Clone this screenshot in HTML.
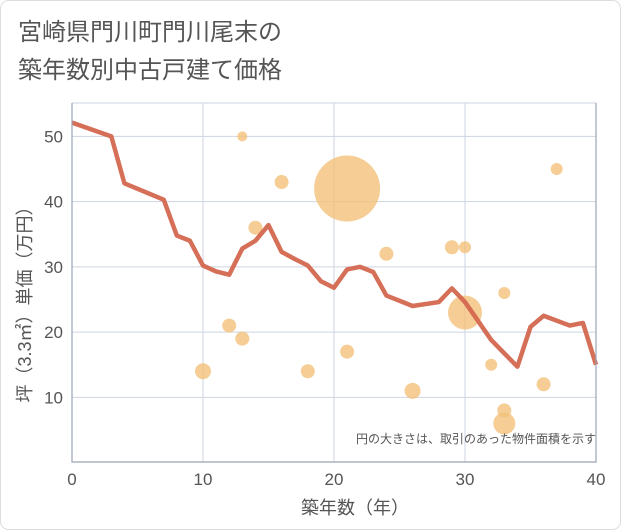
<!DOCTYPE html>
<html><head><meta charset="utf-8">
<style>
body{margin:0;background:#fff;}
svg{display:block;font-family:"Liberation Sans","Noto Sans CJK JP",sans-serif;}
</style></head>
<body>
<svg id="chart" width="621" height="530" viewBox="0 0 621 530">
<rect x="0.5" y="0.5" width="620" height="529" rx="8" fill="#fff" stroke="#ddd"/>
<text x="18" y="40" font-size="24" fill="#555">宮崎県門川町門川尾末の</text>
<text x="18" y="78" font-size="24" fill="#555">築年数別中古戸建て価格</text>
<g id="grid"></g>
<g id="bubbles"></g>
<g id="line"></g>
<g id="axes"></g>
<text x="596" y="443" font-size="12" fill="#555" text-anchor="end">円の大きさは、取引のあった物件面積を示す</text>
<text x="355" y="514" font-size="18" fill="#555" text-anchor="middle">築年数（年）</text>
<text transform="translate(31,300) rotate(-90)" font-size="18" fill="#555" text-anchor="middle">坪（3.3㎡）単価（万円）</text>
</svg>
<script>
const xTicks=[0,10,20,30,40];
const yTicks=[10,20,30,40,50];
const lineX=[0,3,4,7,8,9,10,11,12,13,14,15,16,17,18,19,20,21,22,23,24,26,28,29,30,32,34,35,36,38,39,40];
const lineY=[52.1,50,42.8,40.3,34.8,34.0,30.2,29.3,28.8,32.8,34.0,36.4,32.3,31.2,30.2,27.8,26.8,29.6,30.0,29.2,25.6,24.0,24.6,26.7,24.6,18.8,14.7,20.8,22.5,21.0,21.4,15.0];
const bubX=[13,16,21,14,24,29,30,33,30,12,13,21,10,18,32,37,36,26,33,33];
const bubY=[50,43,42,36,32,33,33,26,23,21,19,17,14,14,15,45,12,11,8,6];
const bubR=[5,7,33,7,7,7,6,6,17,7,7,7,8,7,6,6,7,8,7,11];

const X0=72,X1=596,YT=103,YB=462;
const sx=v=>X0+(v-0)*(X1-X0)/40;
const sy=v=>462.6-v*6.525;
const NS="http://www.w3.org/2000/svg";
function mk(tag,attrs,parent){const e=document.createElementNS(NS,tag);for(const k in attrs)e.setAttribute(k,attrs[k]);parent.appendChild(e);return e;}
const grid=document.getElementById('grid'),axes=document.getElementById('axes');
xTicks.forEach(t=>{
  const l=mk('line',{x1:sx(t),x2:sx(t),y1:YT,y2:YB,stroke:'#cdd5e0','stroke-width':1},grid);
  
  
  const tx=mk('text',{x:sx(t),y:485,'font-size':17,fill:'#555','text-anchor':'middle'},axes);
  tx.textContent=t;
  
  
});
yTicks.forEach(t=>{
  const l=mk('line',{x1:X0,x2:X1,y1:sy(t),y2:sy(t),stroke:'#cdd5e0','stroke-width':1},grid);
  
  
  const tx=mk('text',{x:63,y:sy(t)+6,'font-size':17,fill:'#555','text-anchor':'end'},axes);
  tx.textContent=t;
  
  
});
const plotTop=mk('line',{x1:X0,x2:X1,y1:YT,y2:YT,stroke:'#cdd5e0'},grid);


const axPath=mk('path',{d:`M${X0},${YT}V${YB}H${X1}V${YT}`,fill:'none',stroke:'#9aa5b4','stroke-width':1.2},axes);


const bg=document.getElementById('bubbles');
bubX.forEach((v,i)=>{
  const c=mk('circle',{cx:sx(v),cy:sy(bubY[i]),r:bubR[i],fill:'#f3c17a','fill-opacity':0.8},bg);
  
  
});
const pts=lineX.map((v,i)=>sx(v)+','+sy(lineY[i])).join(' ');
const pl=mk('polyline',{points:pts,fill:'none',stroke:'#d4674f','stroke-width':4.5,'stroke-linejoin':'round','stroke-opacity':0.95},document.getElementById('line'));


</script>
</body></html>
